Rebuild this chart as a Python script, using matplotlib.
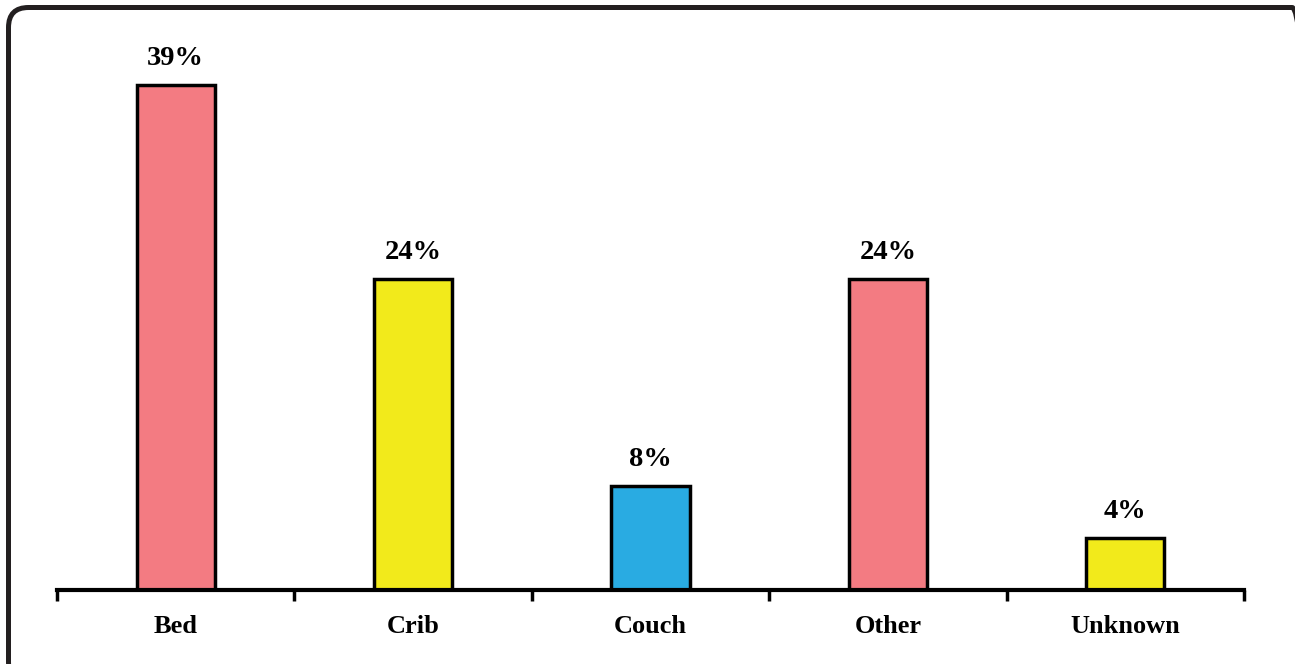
import matplotlib
matplotlib.use("Agg")
import matplotlib.pyplot as plt
from matplotlib.patches import FancyBboxPatch

categories = ["Bed", "Crib", "Couch", "Other", "Unknown"]
values = [39, 24, 8, 24, 4]
labels = ["39%", "24%", "8%", "24%", "4%"]
colors = ["#F37B82", "#F2EA1B", "#29ABE2", "#F37B82", "#F2EA1B"]

W, H = 1295, 664
fig = plt.figure(figsize=(W / 100, H / 100), dpi=100)
font = ["Liberation Serif", "DejaVu Serif"]

# rounded frame (extends past right/bottom edges of the canvas)
x0, y0_top, x1, y1_bot = 8.5, 7.5, 1312, 682
frame = FancyBboxPatch((x0 / 100, (H - y1_bot) / 100), (x1 - x0) / 100, (y1_bot - y0_top) / 100,
                       boxstyle="round,pad=0,rounding_size=0.2",
                       transform=fig.dpi_scale_trans, fill=False,
                       edgecolor="#231F20", linewidth=3.6)
fig.patches.append(frame)

base_px = 590
top_px = 30
ax = fig.add_axes([57 / W, (H - base_px) / H, (1244 - 57) / W, (base_px - top_px) / H])
scale = 12.955  # px per percent
ax.set_ylim(0, (base_px - top_px) / scale)
ax.set_xlim(-0.5, len(categories) - 0.5)

x = list(range(len(categories)))
bars = ax.bar(x, values, width=0.33, color=colors, edgecolor="black", linewidth=2.5, zorder=3)
for t in ax.bar_label(bars, labels=labels, padding=10):
    t.set_fontfamily(font)
    t.set_fontweight("bold")
    t.set_fontsize(20.5)

for s in ["top", "right", "left"]:
    ax.spines[s].set_visible(False)
ax.spines["bottom"].set_linewidth(3)
ax.spines["bottom"].set_zorder(4)
ax.set_yticks([])
ax.set_xticks([i - 0.5 for i in range(len(categories) + 1)])
ax.set_xticklabels([])
ax.tick_params(axis="x", which="major", direction="out", length=8, width=2.5)
ax.set_xticks(x, minor=True)
ax.set_xticklabels(categories, minor=True, fontfamily=font, fontweight="bold", fontsize=19)
ax.tick_params(axis="x", which="minor", length=0, pad=18)
ax.patch.set_visible(False)

fig.savefig("out.png", dpi=100)
